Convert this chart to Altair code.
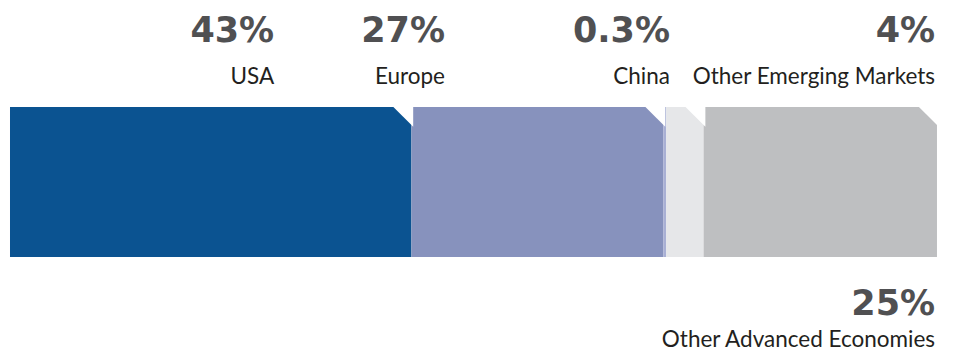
import altair as alt
import pandas as pd

regions = ["USA", "Europe", "China", "Other Emerging Markets", "Other Advanced Economies"]
shares = [43, 27, 0.3, 4, 25]
share_labels = ["43%", "27%", "0.3%", "4%", "25%"]
colors = ["#0b5391", "#8792bd", "#a9b0d4", "#e6e7e9", "#bebfc1"]
label_anchor = [28.3, 46.6, 70.7, 99.1, 99.1]
label_side = ["top", "top", "top", "top", "bottom"]

starts, ends, acc = [], [], 0.0
for v in shares:
    starts.append(acc)
    acc += v
    ends.append(acc)

df = pd.DataFrame({
    "region": regions, "share": shares, "label": share_labels,
    "start": starts, "end": ends, "anchor": label_anchor, "side": label_side,
})

xscale = alt.Scale(domain=[-1.071, 101.23], nice=False, zero=False)
X = lambda f: alt.X(f, type="quantitative", scale=xscale, axis=None)

bars = alt.Chart(df).mark_bar(cornerRadius=0).encode(
    x=X("start"), x2="end",
    y=alt.value(107), y2=alt.value(257),
    color=alt.Color("region:N", scale=alt.Scale(domain=regions, range=colors), legend=None),
)

cuts = alt.Chart(df).transform_filter("datum.share > 1").mark_point(
    shape="M -2.2 -0.2 L 0.2 -0.2 L 0.2 2.2 Z", filled=True, fill="white",
    strokeWidth=0, opacity=1, size=324,
).encode(x=X("end"), y=alt.value(107))

def text_layer(side, pct_y, name_y):
    base = alt.Chart(df).transform_filter(f"datum.side == '{side}'")
    pct = base.mark_text(align="right", baseline="alphabetic", font="DejaVu Sans",
                         fontWeight="bold", fontSize=35, color="#505052").encode(
        x=X("anchor"), y=alt.value(pct_y), text="label:N")
    name = base.mark_text(align="right", baseline="alphabetic", font="Lato",
                          fontSize=22.5, color="#231f20").encode(
        x=X("anchor"), y=alt.value(name_y), text="region:N")
    return pct + name

chart = alt.layer(
    bars, cuts, text_layer("top", 42, 84), text_layer("bottom", 315, 347)
).properties(width=955, height=351, autosize="none", padding=0).configure_view(stroke=None)

chart.save("out.html", embed_options={"renderer": "svg", "actions": False})
